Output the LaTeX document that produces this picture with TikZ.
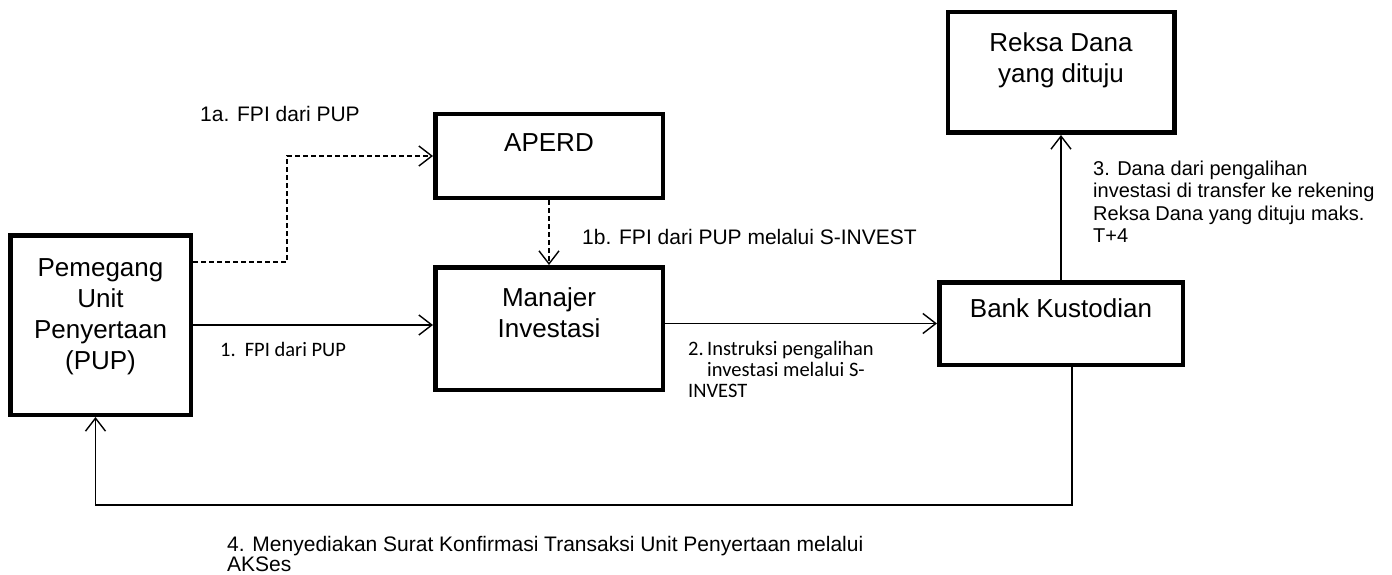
\documentclass[tikz,border=0pt]{standalone}
\usepackage{fontspec}
\setmainfont{Liberation Sans}
\newfontfamily\calibrifont{Carlito}
\usetikzlibrary{arrows.meta,positioning}
\tikzset{
    every picture/.style={
        x=1pt,y=-1pt,>={Straight Barb[length=13pt,width=20pt]},
        entity/.style={draw,line width=4.5pt,inner sep=0pt},
        entitytext/.style={anchor=north,inner sep=0pt,align=center,
            font=\fontsize{26}{31}\selectfont},
        flow/.style={->,line width=1.4pt},
        dashflow/.style={flow,dash pattern=on 5pt off 3pt},
        note/.style={inner sep=0pt,align=left,font=\fontsize{21}{19}\selectfont},
        calinote/.style={inner sep=0pt,align=left,font=\calibrifont\fontsize{20.5}{21}\selectfont}
    }
}

\begin{document}
\begin{tikzpicture}
    \useasboundingbox (0,0) rectangle (1392,575);
    \node[entity,minimum width=180.5pt,minimum height=179.5pt,
          label={[entitytext,yshift=-25pt]north:Pemegang\\Unit\\Penyertaan\\(PUP)}]
          (pup) at (100.5,325) {};
    \node[entity,minimum width=227.5pt,minimum height=122.5pt,
          label={[entitytext,yshift=-22pt]north:Manajer\\Investasi}]
          (mi) [right=240pt of pup,yshift=-3.5pt] {};
    \node[entity,minimum width=227.5pt,minimum height=83.5pt,
          label={[entitytext,yshift=-21pt]north:APERD}]
          (aperd) [above=65pt of mi] {};
    \node[entity,minimum width=243.5pt,minimum height=82.5pt,
          label={[entitytext,yshift=-18pt]north:Bank Kustodian}]
          (bank) [right=272pt of mi,yshift=5pt] {};
    \node[entity,minimum width=226.5pt,minimum height=120.5pt,
          label={[entitytext,yshift=-22pt]north:Reksa Dana\\yang dituju}]
          (reksa) [above=145pt of bank] {};

    % connectors
    \draw[flow] (pup.east) -- (pup.east -| mi.west);
    \draw[dashflow] ([yshift=-29pt]pup.north east) -- ++(94,0) |- (aperd.west);
    \draw[dashflow] (aperd.south) -- (aperd.south |- mi.north);
    \draw[flow] (mi.east |- bank.west) -- (bank.west);
    \draw[flow] (bank.north) -- (bank.north |- reksa.south);
    \draw[flow] ([xshift=11pt]bank.south) -- ++(0,138) -| ([xshift=-5pt]pup.south);

    % labels
    \node[note,anchor=base west] (l1a) at (200,122) {1a. FPI dari PUP};
    \node[note,anchor=base west] (l1b) at (582,244) {1b. FPI dari PUP melalui S-INVEST};
    \node[calinote,anchor=base west] (l1) at (220,356) {1.\hspace{9pt}FPI dari PUP};
    \node[calinote,anchor=north west] (l2) at (688,341)
        {\makebox[19pt][l]{2.}Instruksi pengalihan\\\hspace*{19pt}investasi melalui S-\\INVEST};
    \node[note,font=\fontsize{20}{22.3}\selectfont,anchor=north west] (l3) at (1093,161)
        {3. Dana dari pengalihan\\investasi di transfer ke rekening\\Reksa Dana yang dituju maks.\\T+4};
    \node[note,anchor=north west] (l4) at (227,536)
        {4. Menyediakan Surat Konfirmasi Transaksi Unit Penyertaan melalui\\AKSes};
\end{tikzpicture}
\end{document}
